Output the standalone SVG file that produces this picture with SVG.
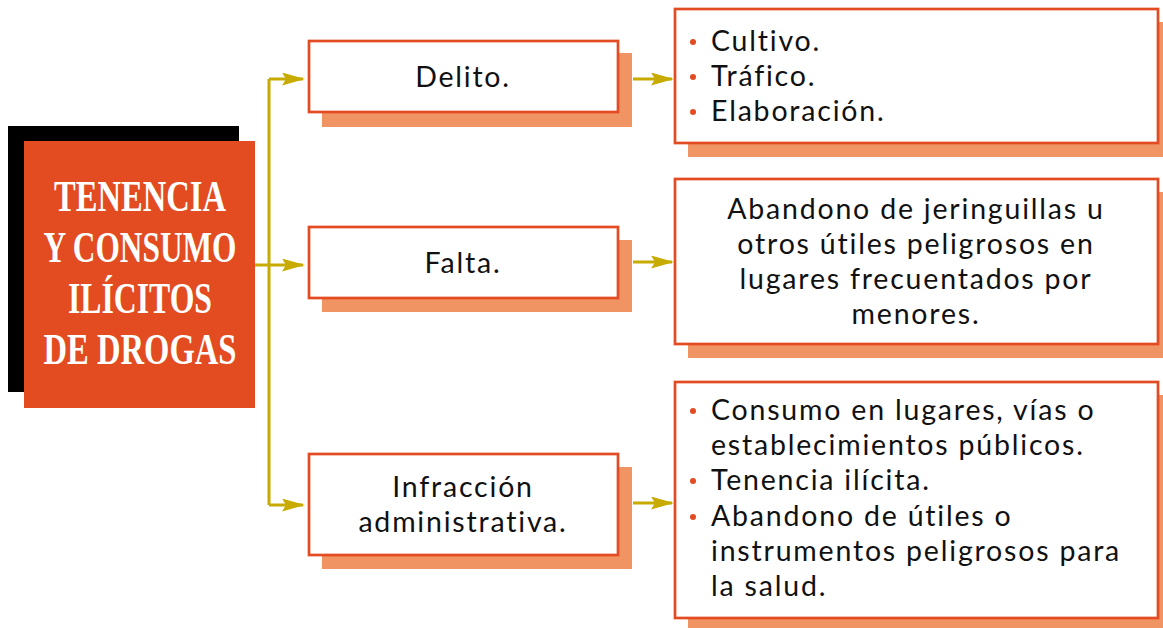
<svg xmlns="http://www.w3.org/2000/svg" width="1163" height="628" viewBox="0 0 1163 628">
<defs>
<style>
.box{fill:#fff;stroke:#E34B22;stroke-width:2.7}
.shadow{fill:#F09463}
.t{font-family:Lato,"Open Sans","Liberation Sans",sans-serif;font-size:28.5px;letter-spacing:1.8px;fill:#111}
.c{text-anchor:middle}
.title{font-family:"Liberation Serif",serif;font-weight:bold;font-size:45px;fill:#fff;text-anchor:middle}
.conn{fill:none;stroke:#C8AB00;stroke-width:3}
.dot{fill:#E34B22}
</style>
<marker id="ah" markerUnits="userSpaceOnUse" markerWidth="23" markerHeight="13" refX="21" refY="6.5" orient="auto">
<path d="M0,0 L23,6.5 L0,13 L4,6.5 Z" fill="#C8AB00"/>
</marker>
</defs>
<rect width="1163" height="628" fill="#fff"/>
<g id="connectors">
<path class="conn" d="M269,79 V505"/>
<path class="conn" d="M255,265 H269"/>
<path class="conn" d="M269,79 H303" marker-end="url(#ah)"/>
<path class="conn" d="M269,265 H303" marker-end="url(#ah)"/>
<path class="conn" d="M269,505 H303" marker-end="url(#ah)"/>
<path class="conn" d="M633,79 H672" marker-end="url(#ah)"/>
<path class="conn" d="M633,262 H672" marker-end="url(#ah)"/>
<path class="conn" d="M633,503 H672" marker-end="url(#ah)"/>
</g>
<g id="title">
<rect x="8" y="126" width="231" height="266" fill="#000"/>
<rect x="24" y="141" width="231" height="267" fill="#E34B20"/>
<text class="title" x="140" y="211" textLength="172" lengthAdjust="spacingAndGlyphs">TENENCIA</text>
<text class="title" x="140" y="262" textLength="193" lengthAdjust="spacingAndGlyphs">Y CONSUMO</text>
<text class="title" x="140" y="313" textLength="144" lengthAdjust="spacingAndGlyphs">ILÍCITOS</text>
<text class="title" x="140" y="364" textLength="193" lengthAdjust="spacingAndGlyphs">DE DROGAS</text>
</g>
<g id="delito">
<rect class="shadow" x="322" y="53" width="310" height="74"/>
<rect class="box" x="309" y="41" width="309" height="71"/>
<text class="t c" x="463" y="87">Delito.</text>
</g>
<g id="falta">
<rect class="shadow" x="322" y="240" width="310" height="72"/>
<rect class="box" x="309" y="227" width="309" height="71"/>
<text class="t c" x="463" y="273">Falta.</text>
</g>
<g id="infraccion">
<rect class="shadow" x="322" y="467" width="310" height="102"/>
<rect class="box" x="309" y="454" width="309" height="101"/>
<text class="t c" x="463" y="497">Infracción</text>
<text class="t c" x="463" y="532">administrativa.</text>
</g>
<g id="delito-list">
<rect class="shadow" x="688" y="22" width="475" height="135"/>
<rect class="box" x="675" y="9" width="483" height="134"/>
<circle class="dot" cx="693" cy="42" r="3"/>
<circle class="dot" cx="693" cy="77" r="3"/>
<circle class="dot" cx="693" cy="112" r="3"/>
<text class="t" x="711" y="51">Cultivo.</text>
<text class="t" x="711" y="86">Tráfico.</text>
<text class="t" x="711" y="121">Elaboración.</text>
</g>
<g id="falta-desc">
<rect class="shadow" x="688" y="192" width="475" height="166"/>
<rect class="box" x="675" y="179" width="483" height="165"/>
<text class="t c" x="916" y="219">Abandono de jeringuillas u</text>
<text class="t c" x="916" y="254">otros útiles peligrosos en</text>
<text class="t c" x="916" y="289">lugares frecuentados por</text>
<text class="t c" x="916" y="324">menores.</text>
</g>
<g id="infraccion-list">
<rect class="shadow" x="688" y="395" width="475" height="233"/>
<rect class="box" x="675" y="382" width="483" height="236"/>
<circle class="dot" cx="693" cy="411" r="3"/>
<circle class="dot" cx="693" cy="481" r="3"/>
<circle class="dot" cx="693" cy="517" r="3"/>
<text class="t" x="711" y="420">Consumo en lugares, vías o</text>
<text class="t" x="711" y="455">establecimientos públicos.</text>
<text class="t" x="711" y="490">Tenencia ilícita.</text>
<text class="t" x="711" y="526">Abandono de útiles o</text>
<text class="t" x="711" y="561">instrumentos peligrosos para</text>
<text class="t" x="711" y="596">la salud.</text>
</g>
</svg>
